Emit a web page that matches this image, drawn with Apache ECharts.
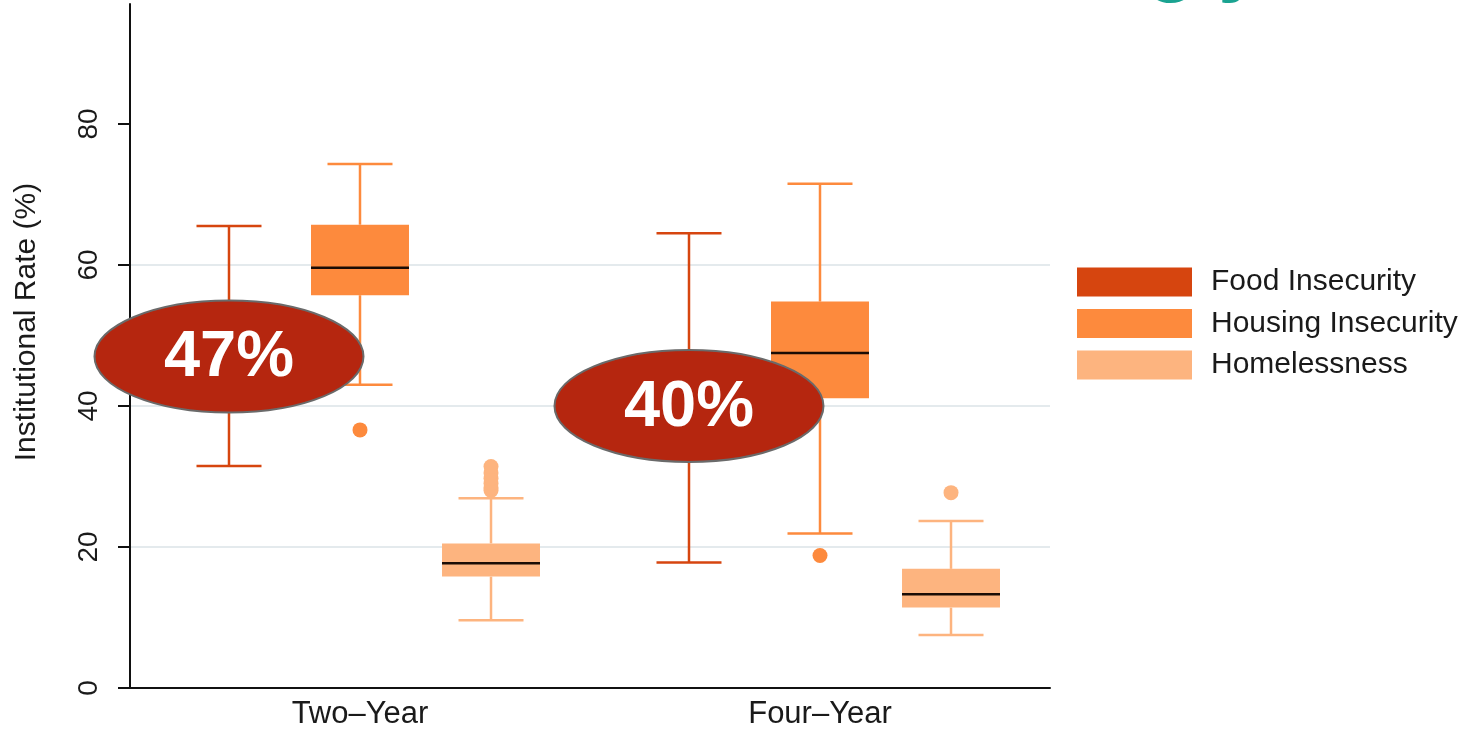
<!DOCTYPE html>
<html>
<head>
<meta charset="utf-8">
<title>Institutional Rate by Sector</title>
<script src="https://cdn.jsdelivr.net/npm/echarts@6/dist/echarts.min.js"></script>
<style>
  html, body { margin: 0; padding: 0; background: #ffffff; }
  #chart { width: 1470px; height: 730px; }
</style>
</head>
<body>
<div id="chart"></div>
<script>
// Sectors on the category axis
const categories = ['Two–Year', 'Four–Year'];

// Box statistics per sector: [low whisker, Q1, median, Q3, high whisker]
const foodStats     = [[31.5, 41.5, 47.0, 53.0, 65.5], [17.8, 34.0, 40.0, 46.0, 64.5]];
const housingStats  = [[43.0, 55.7, 59.6, 65.7, 74.3], [21.9, 41.1, 47.5, 54.8, 71.5]];
const homelessStats = [[9.6, 15.8, 17.7, 20.5, 26.9], [7.5, 11.4, 13.3, 16.9, 23.7]];

// Outlying institutions per sector
const foodOutliers     = [[], []];
const housingOutliers  = [[36.6], [18.8]];
const homelessOutliers = [[28.0, 28.4, 29.0, 29.7, 30.5, 31.4], [27.7]];

// Headline rates called out over the food insecurity boxes
const headlineRates = [47, 40];

// Y axis ticks
const yTicks = [0, 20, 40, 60, 80];

const seriesNames  = ['Food Insecurity', 'Housing Insecurity', 'Homelessness'];
const seriesColors = ['#D6450F', '#FD8A3D', '#FDB47F'];

const FONT = "'Liberation Sans', Arial, Helvetica, sans-serif";
const GROUP_STEP = 0.2848;  // centre-to-centre spacing of boxes, share of band
const BOX_W = 0.213;        // box width, share of band
const CAP_W = 0.1413;       // whisker cap width, share of band

function boxRows(stats) {
  return stats.map((s, i) => [i].concat(s));
}

function makeBoxRenderer(slot, color, outliers) {
  return function (params, api) {
    const cat = api.value(0);
    const band = api.size([1, 0])[0];
    const cx = api.coord([cat, 0])[0] + (slot - 1) * band * GROUP_STEP;
    const y = v => api.coord([cat, v])[1];
    const low = y(api.value(1)), q1 = y(api.value(2)), med = y(api.value(3)),
          q3 = y(api.value(4)), high = y(api.value(5));
    const bw = band * BOX_W, cw = band * CAP_W;
    const lineStyle = { stroke: color, lineWidth: 2.5 };
    const children = [
      { type: 'line', shape: { x1: cx, y1: q3, x2: cx, y2: high }, style: lineStyle },
      { type: 'line', shape: { x1: cx, y1: q1, x2: cx, y2: low }, style: lineStyle },
      { type: 'line', shape: { x1: cx - cw / 2, y1: high, x2: cx + cw / 2, y2: high }, style: lineStyle },
      { type: 'line', shape: { x1: cx - cw / 2, y1: low, x2: cx + cw / 2, y2: low }, style: lineStyle },
      { type: 'rect', shape: { x: cx - bw / 2, y: q3, width: bw, height: q1 - q3 }, style: { fill: color } },
      { type: 'line', shape: { x1: cx - bw / 2, y1: med, x2: cx + bw / 2, y2: med }, style: { stroke: '#1a0c05', lineWidth: 2.5 } }
    ];
    (outliers[params.dataIndex] || []).forEach(v => {
      children.push({ type: 'circle', shape: { cx: cx, cy: y(v), r: 7.5 }, style: { fill: color } });
    });
    return { type: 'group', children: children };
  };
}

const statsList = [foodStats, housingStats, homelessStats];
const outlierList = [foodOutliers, housingOutliers, homelessOutliers];

const boxSeries = seriesNames.map((name, k) => ({
  name: name,
  type: 'custom',
  z: 2,
  itemStyle: { color: seriesColors[k] },
  encode: { x: 0, y: [1, 2, 3, 4, 5] },
  renderItem: makeBoxRenderer(k, seriesColors[k], outlierList[k]),
  data: boxRows(statsList[k])
}));

// Red callout ellipses centred on the food insecurity boxes
const calloutSeries = {
  type: 'custom',
  z: 10,
  silent: true,
  encode: { x: 0, y: 1 },
  renderItem: function (params, api) {
    const cat = api.value(0);
    const band = api.size([1, 0])[0];
    const p = api.coord([cat, api.value(1)]);
    const cx = p[0] - band * GROUP_STEP;
    const cy = p[1];
    return {
      type: 'group',
      children: [
        { type: 'ellipse', shape: { cx: cx, cy: cy, rx: 134.5, ry: 56 },
          style: { fill: '#B5260F', stroke: '#6a6a6a', lineWidth: 2 } },
        { type: 'text', style: { text: api.value(1) + '%', x: cx, y: cy + 2,
            fill: '#ffffff', font: 'bold 65px ' + FONT, align: 'center', verticalAlign: 'middle' } }
      ]
    };
  },
  data: headlineRates.map((v, i) => [i, v])
};

const chart = echarts.init(document.getElementById('chart'), null, { renderer: 'canvas' });

chart.setOption({
  backgroundColor: '#ffffff',
  animation: false,
  textStyle: { fontFamily: FONT },
  grid: { left: 130, right: 420, top: 4, bottom: 39, containLabel: false },
  legend: {
    data: seriesNames,
    orient: 'vertical',
    left: 1072,
    top: 262,
    icon: 'rect',
    itemWidth: 115,
    itemHeight: 29,
    itemGap: 11.5,
    selectedMode: false,
    textStyle: { fontSize: 30, color: '#1a1a1a', fontFamily: FONT, padding: [0, 0, 0, 14] }
  },
  // Descenders of the heading that runs above the chart
  graphic: [
    { type: 'text', left: 1146, top: -79, silent: true,
      style: { text: 'g', font: 'bold 84px ' + FONT, fill: '#1AA391' } },
    { type: 'text', left: 1218, top: -79, silent: true,
      style: { text: 'y', font: 'bold 84px ' + FONT, fill: '#1AA391' } }
  ],
  xAxis: {
    type: 'category',
    data: categories,
    boundaryGap: true,
    axisLine: { lineStyle: { color: '#111111', width: 2 } },
    axisTick: { show: false },
    axisLabel: { fontSize: 31, color: '#1a1a1a', margin: 11, fontFamily: FONT },
    splitLine: { show: false }
  },
  yAxis: {
    type: 'value',
    min: 0,
    max: 97,
    interval: 20,
    name: 'Institutional Rate (%)',
    nameLocation: 'middle',
    nameGap: 88,
    nameRotate: 90,
    nameTextStyle: { fontSize: 30, color: '#1a1a1a', fontFamily: FONT, padding: [0, 0, 0, 48] },
    axisLine: { show: true, lineStyle: { color: '#111111', width: 2 } },
    axisTick: { show: true, length: 12, customValues: yTicks, lineStyle: { color: '#111111', width: 2 } },
    axisLabel: { rotate: 90, fontSize: 28, color: '#1a1a1a', margin: 27, customValues: yTicks, fontFamily: FONT },
    splitLine: { show: true, showMinLine: false, showMaxLine: false, lineStyle: { color: '#E4EAED', width: 2 } }
  },
  series: boxSeries.concat([calloutSeries])
});
</script>
</body>
</html>
